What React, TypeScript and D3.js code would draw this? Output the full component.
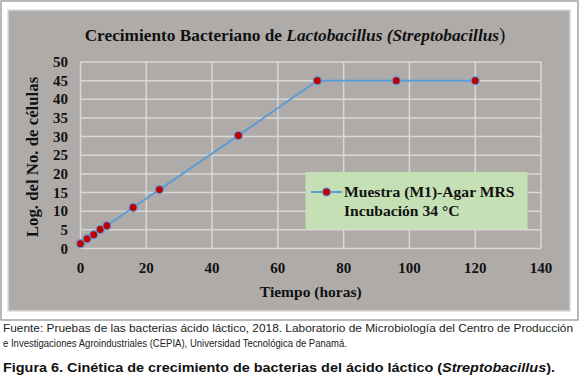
import React from "react";
import * as d3 from "d3";

const hours = [0, 2, 4, 6, 8, 16, 24, 48, 72, 96, 120];
const logCells = [1.3, 2.6, 3.7, 5.1, 6.1, 11.0, 15.8, 30.3, 45, 45, 45];
const xTicks = [0, 20, 40, 60, 80, 100, 120, 140];
const yTicks = [0, 5, 10, 15, 20, 25, 30, 35, 40, 45, 50];
const legendLines = ["Muestra (M1)-Agar MRS", "Incubación 34 °C"];

const W = 585;
const H = 382;
const plot = { left: 80.5, right: 541, top: 62, bottom: 248.5 };

export default function App() {
  const x = d3.scaleLinear().domain([0, 140]).range([plot.left, plot.right]);
  const y = d3.scaleLinear().domain([0, 50]).range([plot.bottom, plot.top]);
  const line = d3
    .line<number>()
    .x((_, i) => x(hours[i]))
    .y((d) => y(d));
  const serif = "'Liberation Serif', 'Times New Roman', serif";
  const sans = "'Liberation Sans', Arial, sans-serif";
  const bg = "#afaba9";
  const grid = "#d8d8d8";
  const blue = "#5b9bd5";
  const red = "#c00000";

  return (
    <svg
      width={W}
      height={H}
      style={{ position: "absolute", left: 0, top: 0, background: "#fff" }}
    >
      <rect x={1} y={1} width={577} height={319} fill="#fff" stroke="#8c8c8c" strokeWidth={1.2} />
      <rect x={8} y={10} width={562} height={301} fill={bg} stroke="#d9d9d9" strokeWidth={1.5} />

      {/* title */}
      <text
        x={295}
        y={41}
        textAnchor="middle"
        fontFamily={serif}
        fontSize={17.3}
        fontWeight="bold"
        fill="#111"
      >
        <tspan>Crecimiento Bacteriano de </tspan>
        <tspan fontStyle="italic">Lactobacillus (Streptobacillus</tspan>
        <tspan fontWeight="normal" fontSize={19}>)</tspan>
      </text>

      {/* gridlines */}
      {yTicks.map((t) => (
        <line key={"gy" + t} x1={plot.left} x2={plot.right} y1={y(t)} y2={y(t)} stroke={grid} strokeWidth={1.5} />
      ))}
      {xTicks.map((t) => (
        <line key={"gx" + t} x1={x(t)} x2={x(t)} y1={plot.top} y2={plot.bottom} stroke={grid} strokeWidth={1.5} />
      ))}

      {/* tick labels */}
      {yTicks.map((t) => (
        <text
          key={"ty" + t}
          x={68}
          y={y(t) + 5}
          textAnchor="end"
          fontFamily={serif}
          fontSize={15}
          fontWeight="bold"
          fill="#111"
        >
          {t}
        </text>
      ))}
      {xTicks.map((t) => (
        <text
          key={"tx" + t}
          x={x(t)}
          y={273}
          textAnchor="middle"
          fontFamily={serif}
          fontSize={15}
          fontWeight="bold"
          fill="#111"
        >
          {t}
        </text>
      ))}

      {/* axis titles */}
      <text
        transform={`translate(38, ${157}) rotate(-90)`}
        textAnchor="middle"
        fontFamily={serif}
        fontSize={16.8}
        fontWeight="bold"
        fill="#111"
      >
        Log. del No. de células
      </text>
      <text
        x={(plot.left + plot.right) / 2}
        y={297}
        textAnchor="middle"
        fontFamily={serif}
        fontSize={15.5}
        fontWeight="bold"
        fill="#111"
      >
        Tiempo (horas)
      </text>

      {/* series */}
      <path d={line(logCells) || ""} fill="none" stroke={blue} strokeWidth={2} />
      {logCells.map((v, i) => (
        <circle key={"p" + i} cx={x(hours[i])} cy={y(v)} r={4} fill={red} stroke={blue} strokeWidth={1.2} />
      ))}

      {/* legend */}
      <rect x={305.5} y={172} width={222} height={57} fill="#c5e0b4" />
      <line x1={311} x2={342} y1={192} y2={192} stroke={blue} strokeWidth={2} />
      <circle cx={326.5} cy={192} r={4} fill={red} stroke={blue} strokeWidth={1.2} />
      {legendLines.map((s, i) => (
        <text
          key={"l" + i}
          x={344}
          y={197 + i * 18.5}
          fontFamily={serif}
          fontSize={15.6}
          fontWeight="bold"
          fill="#111"
        >
          {s}
        </text>
      ))}

      {/* caption */}
      <text x={3} y={332} fontFamily={sans} fontSize={11.5} fill="#222" textLength={570} lengthAdjust="spacingAndGlyphs">
        Fuente: Pruebas de las bacterias ácido láctico, 2018. Laboratorio de Microbiología del Centro de Producción
      </text>
      <text x={3} y={347} fontFamily={sans} fontSize={11.5} fill="#222" textLength={344} lengthAdjust="spacingAndGlyphs">
        e Investigaciones Agroindustriales (CEPIA), Universidad Tecnológica de Panamá.
      </text>
      <text x={3} y={372} fontFamily={sans} fontSize={12.5} fontWeight="bold" fill="#111" textLength={552} lengthAdjust="spacingAndGlyphs">
        <tspan>Figura 6. Cinética de crecimiento de bacterias del ácido láctico (</tspan>
        <tspan fontStyle="italic">Streptobacillus</tspan>
        <tspan>).</tspan>
      </text>
    </svg>
  );
}
